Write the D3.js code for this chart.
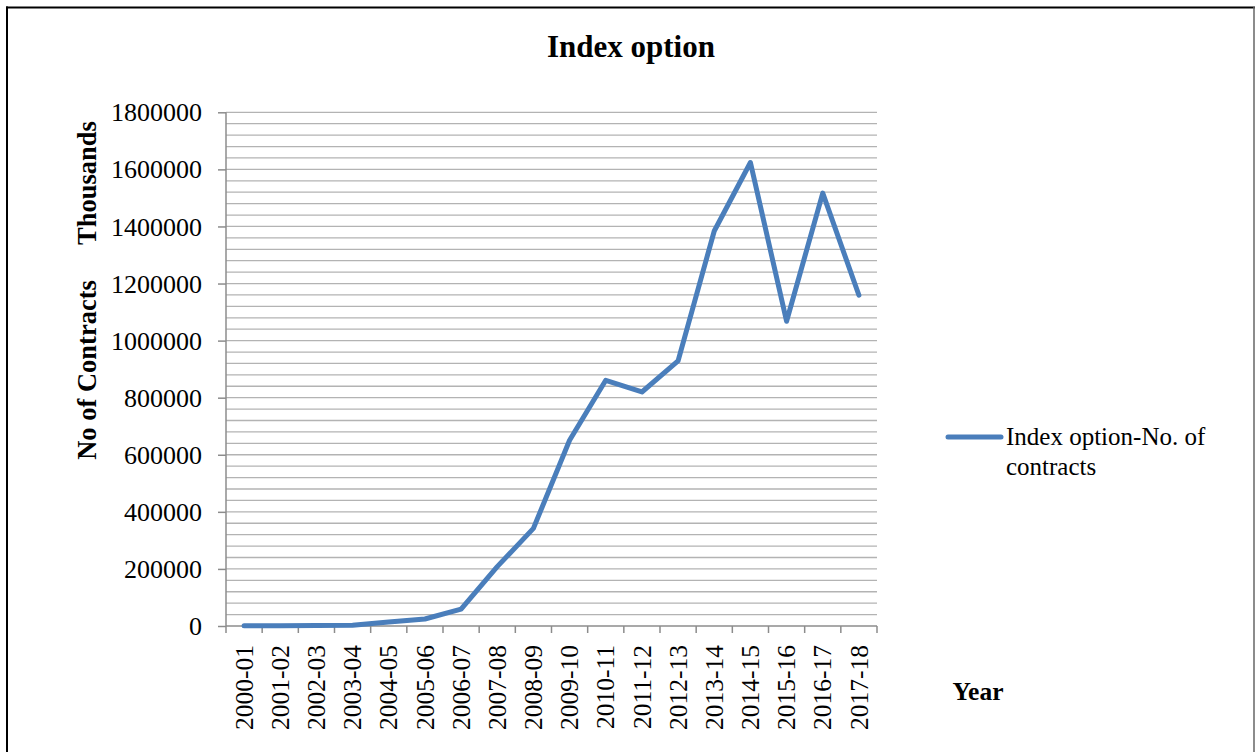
<!DOCTYPE html>
<html>
<head>
<meta charset="utf-8">
<script src="https://cdn.jsdelivr.net/npm/d3@7"></script>
<style>
  html, body { margin: 0; padding: 0; background: #fff; }
  svg { display: block; }
  text { font-family: "Liberation Serif", "Times New Roman", serif; fill: #000; }
</style>
</head>
<body>
<svg id="chart" width="1255" height="752"></svg>
<script>
// ---- data ----
const categories = ["2000-01","2001-02","2002-03","2003-04","2004-05","2005-06","2006-07","2007-08","2008-09","2009-10","2010-11","2011-12","2012-13","2013-14","2014-15","2015-16","2016-17","2017-18"];
const values = [1000, 1000, 2000, 3000, 14000, 24500, 59000, 208000, 342000, 651000, 861000, 820000, 929000, 1384000, 1624000, 1068000, 1517000, 1159000];
const yTicks = [0, 200000, 400000, 600000, 800000, 1000000, 1200000, 1400000, 1600000, 1800000];
const legendLines = ["Index option-No. of", "contracts"];
const titleText = "Index option";
const yTitle = "No of Contracts";
const yUnit = "Thousands";
const xTitle = "Year";

// ---- layout ----
const svg = d3.select("#chart");
const W = 1255, H = 752;
const plot = { left: 226, right: 877, top: 112.3, bottom: 626 };

const x = d3.scaleBand().domain(categories).range([plot.left, plot.right]);
const y = d3.scaleLinear().domain([0, 1800000]).range([plot.bottom, plot.top]);

// outer frame
svg.append("line").attr("x1", 6).attr("x2", W).attr("y1", 7.5).attr("y2", 7.5).attr("stroke", "#000").attr("stroke-width", 2);
svg.append("line").attr("x1", 7).attr("x2", 7).attr("y1", 6.5).attr("y2", H).attr("stroke", "#000").attr("stroke-width", 2);
svg.append("line").attr("x1", 1254).attr("x2", 1254).attr("y1", 7).attr("y2", H).attr("stroke", "#666").attr("stroke-width", 1.5);

// title
svg.append("text").attr("x", 631).attr("y", 57).attr("text-anchor", "middle")
  .style("font-size", "31px").style("font-weight", "bold").text(titleText);

// gridlines every 40000
const gridVals = d3.range(40000, 1800001, 40000);
svg.append("g").selectAll("line").data(gridVals).join("line")
  .attr("x1", plot.left).attr("x2", plot.right)
  .attr("y1", d => y(d)).attr("y2", d => y(d))
  .attr("stroke", "#b3b3b3").attr("stroke-width", 1.3);

// y axis
const yAxis = d3.axisLeft(y).tickValues(yTicks).tickSize(8).tickPadding(16).tickFormat(d3.format("d"));
const gy = svg.append("g").attr("transform", `translate(${plot.left},0)`).call(yAxis);
gy.select(".domain").attr("stroke", "#8c8c8c").attr("stroke-width", 1.5).attr("d", `M0,${plot.top}V${plot.bottom}`);
gy.selectAll(".tick line").attr("stroke", "#8c8c8c").attr("stroke-width", 1.5);
gy.selectAll(".tick text").style("font-size", "26px").style("font-family", "Liberation Serif, serif").attr("fill", "#000").attr("dy", "0.33em");

// x axis
const bounds = categories.map(c => x(c)).concat([x(categories[categories.length-1]) + x.bandwidth()]);
svg.append("line").attr("x1", plot.left).attr("x2", plot.right).attr("y1", plot.bottom).attr("y2", plot.bottom)
  .attr("stroke", "#8c8c8c").attr("stroke-width", 1.5);
svg.append("g").selectAll("line").data(bounds).join("line")
  .attr("x1", d => d).attr("x2", d => d).attr("y1", plot.bottom).attr("y2", plot.bottom + 7)
  .attr("stroke", "#8c8c8c").attr("stroke-width", 1.5);
svg.append("g").selectAll("text").data(categories).join("text")
  .attr("transform", d => `translate(${x(d) + x.bandwidth()/2 + 8.7},645) rotate(-90)`)
  .attr("text-anchor", "end").style("font-size", "25.5px").text(d => d);

// axis titles
svg.append("text").attr("transform", "translate(96,370) rotate(-90)").attr("text-anchor", "middle")
  .style("font-size", "26.5px").style("font-weight", "bold").text(yTitle);
svg.append("text").attr("transform", "translate(96,183) rotate(-90)").attr("text-anchor", "middle")
  .style("font-size", "26.5px").style("font-weight", "bold").text(yUnit);
svg.append("text").attr("x", 978).attr("y", 700).attr("text-anchor", "middle")
  .style("font-size", "25.5px").style("font-weight", "bold").text(xTitle);

// line
const line = d3.line().x((d, i) => x(categories[i]) + x.bandwidth()/2).y(d => y(d));
svg.append("path").datum(values).attr("d", line)
  .attr("fill", "none").attr("stroke", "#4a7ebb").attr("stroke-width", 5)
  .attr("stroke-linejoin", "round").attr("stroke-linecap", "round");

// legend
svg.append("line").attr("x1", 948).attr("x2", 1001).attr("y1", 437).attr("y2", 437)
  .attr("stroke", "#4a7ebb").attr("stroke-width", 5).attr("stroke-linecap", "round");
const lg = svg.append("text").attr("x", 1006).attr("y", 445).style("font-size", "25px");
legendLines.forEach((t, i) => lg.append("tspan").attr("x", 1006).attr("y", 445 + i * 30).text(t));
</script>
</body>
</html>
